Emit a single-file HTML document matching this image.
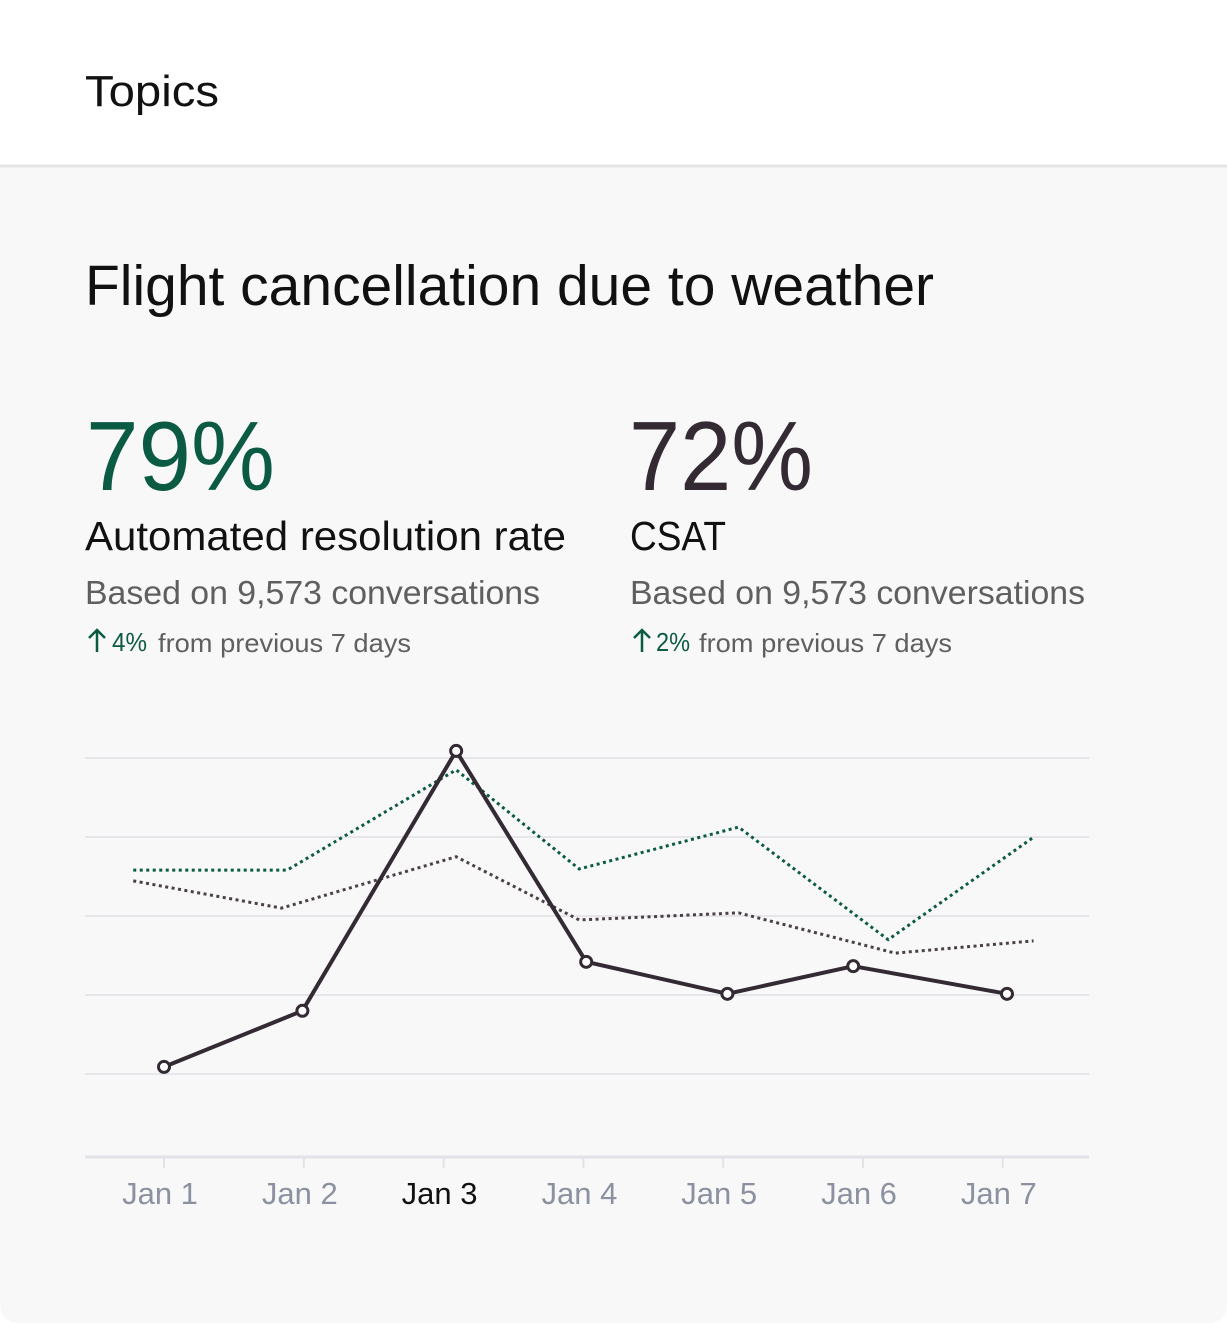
<!DOCTYPE html>
<html><head><meta charset="utf-8">
<style>
html,body{margin:0;padding:0;background:#fff;}
svg{display:block;font-family:"Liberation Sans",sans-serif;}
</style></head>
<body>
<svg id="chart" width="1227" height="1323" viewBox="0 0 1227 1323">
  <rect x="0" y="0" width="1227" height="166" fill="#ffffff"/>
  <path d="M0 166 H1227 V1303 Q1227 1323 1207 1323 H20 Q0 1323 0 1303 Z" fill="#f8f8f8"/>
  <line x1="0" y1="166" x2="1227" y2="166" stroke="#e4e4e4" stroke-width="3"/>
  <text x="85" y="106" font-size="44" fill="#111" textLength="134" lengthAdjust="spacingAndGlyphs">Topics</text>
  <text x="85" y="305" font-size="57" fill="#111" textLength="849" lengthAdjust="spacingAndGlyphs">Flight cancellation due to weather</text>

  <text x="86" y="490" font-size="98" fill="#0b5a43" textLength="189" lengthAdjust="spacingAndGlyphs">79%</text>
  <text x="85" y="550" font-size="41" fill="#111" textLength="481" lengthAdjust="spacingAndGlyphs">Automated resolution rate</text>
  <text x="85" y="604" font-size="33" fill="#5f5f5f" textLength="455" lengthAdjust="spacingAndGlyphs">Based on 9,573 conversations</text>
  <path d="M97 652 V630 M89 638 L97 630 L105 638" fill="none" stroke="#0b5a43" stroke-width="2.5"/>
  <text x="112" y="651" font-size="26" fill="#0b5a43" textLength="35" lengthAdjust="spacingAndGlyphs">4%</text>
  <text x="158" y="652" font-size="26" fill="#5f5f5f" textLength="253" lengthAdjust="spacingAndGlyphs">from previous 7 days</text>

  <text x="629" y="490" font-size="98" fill="#332a33" textLength="184" lengthAdjust="spacingAndGlyphs">72%</text>
  <text x="630" y="550" font-size="41" fill="#111" textLength="96" lengthAdjust="spacingAndGlyphs">CSAT</text>
  <text x="630" y="604" font-size="33" fill="#5f5f5f" textLength="455" lengthAdjust="spacingAndGlyphs">Based on 9,573 conversations</text>
  <path d="M642 652 V630 M634 638 L642 630 L650 638" fill="none" stroke="#0b5a43" stroke-width="2.5"/>
  <text x="656" y="651" font-size="26" fill="#0b5a43" textLength="34" lengthAdjust="spacingAndGlyphs">2%</text>
  <text x="699" y="652" font-size="26" fill="#5f5f5f" textLength="253" lengthAdjust="spacingAndGlyphs">from previous 7 days</text>

  <g id="plot"></g>
</svg>
<script>
const categories = ["Jan 1","Jan 2","Jan 3","Jan 4","Jan 5","Jan 6","Jan 7"];
const activeCategory = 2;
const gridValues = [20, 40, 60, 80, 100];
const mainValues = [21.8, 36, 101.8, 48.4, 40.3, 47.3, 40.3];
const mainDayOffset = [0, -0.01, 0.09, 0.02, 0.03, -0.07, 0.03];
const greenValues = [71.6, 71.6, 97, 71.9, 82.5, 54, 79.7];
const greenDayOffset = [-0.22, -0.12, 0.09, -0.03, 0.11, 0.18, 0.21];
const grayValues = [68.9, 62, 75, 59, 60.8, 50.6, 53.7];
const grayDayOffset = [-0.22, -0.16, 0.09, -0.03, 0.11, 0.23, 0.22];

const NS = "http://www.w3.org/2000/svg";
const plot = document.getElementById('plot');
const X0 = 164, DX = 139.8, Y0 = 1153, KY = 3.95;
const xScale = (i, off) => X0 + (i + (off || 0)) * DX;
const yScale = v => Y0 - v * KY;
function mk(tag, attrs) {
  const e = document.createElementNS(NS, tag);
  for (const k in attrs) e.setAttribute(k, attrs[k]);
  plot.appendChild(e);
  return e;
}
gridValues.forEach(v => {
  const l = mk('line', {x1: 85, x2: 1089, y1: yScale(v), y2: yScale(v), stroke: '#e6e6ea', 'stroke-width': 2});
  
  
});
const ax = mk('line', {x1: 85, x2: 1089, y1: 1157, y2: 1157, stroke: '#e2e2e8', 'stroke-width': 3});


categories.forEach((c, i) => {
  const t = mk('line', {x1: xScale(i), x2: xScale(i), y1: 1157, y2: 1168, stroke: '#e2e2e8', 'stroke-width': 2});
  
  
  const lb = mk('text', {x: xScale(i) - 4, y: 1204, 'text-anchor': 'middle', 'font-size': 31, fill: i === activeCategory ? '#111' : '#8b91a1'});
  lb.textContent = c;
  
  
});
function pts(vals, offs) { return vals.map((v, i) => xScale(i, offs[i]) + ',' + yScale(v)).join(' '); }
const gl = mk('polyline', {points: pts(greenValues, greenDayOffset), fill: 'none', stroke: '#0b5a43', 'stroke-width': 3, 'stroke-dasharray': '3 3.5'});


const gr = mk('polyline', {points: pts(grayValues, grayDayOffset), fill: 'none', stroke: '#4a4048', 'stroke-width': 3, 'stroke-dasharray': '3 3.5'});


const ml = mk('polyline', {points: pts(mainValues, mainDayOffset), fill: 'none', stroke: '#332a33', 'stroke-width': 4, 'stroke-linejoin': 'round'});


mainValues.forEach((v, i) => {
  const p = mk('circle', {cx: xScale(i, mainDayOffset[i]), cy: yScale(v), r: 5.5, fill: '#fff', stroke: '#332a33', 'stroke-width': 3});
  
  
});
</script>
</body></html>
